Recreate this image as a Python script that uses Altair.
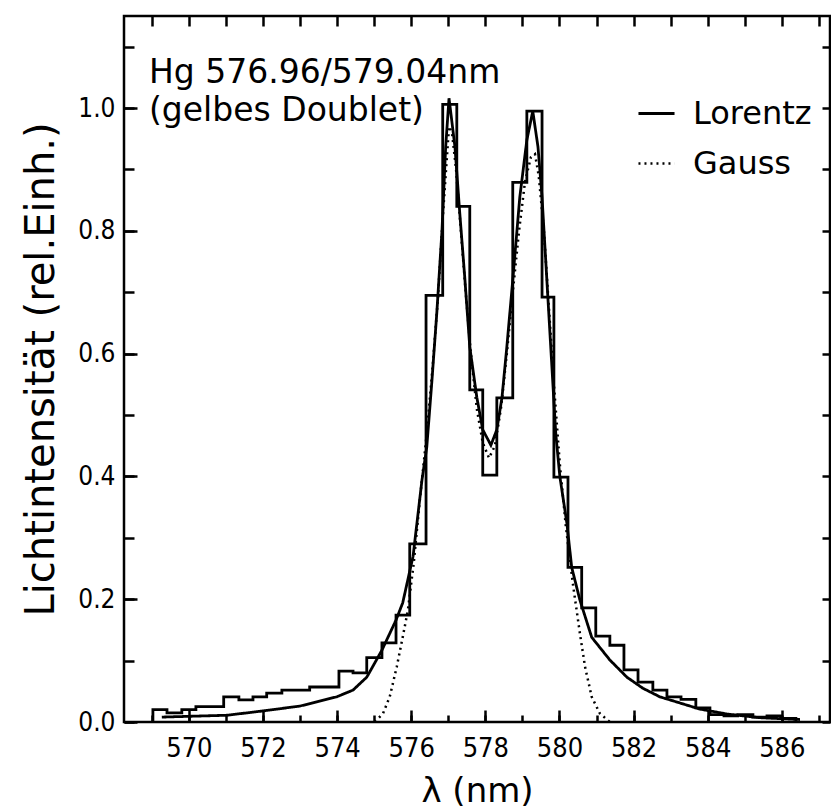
import altair as alt
import pandas as pd

# ---------------- data ----------------
bin_edges = [569.03, 569.41, 569.81, 570.19, 570.57, 570.94, 571.35, 571.73, 572.10, 572.51,
             572.89, 573.26, 573.64, 574.05, 574.43, 574.80, 575.21, 575.59, 575.96, 576.40,
             576.85, 577.23, 577.58, 577.93, 578.31, 578.74, 579.12, 579.53, 579.85, 580.23,
             580.60, 580.98, 581.36, 581.74, 582.12, 582.52, 582.90, 583.28, 583.68, 584.06,
             584.44, 584.81, 585.22, 585.60, 585.97, 586.38]
bin_heights = [0.020, 0.015, 0.020, 0.025, 0.025, 0.041, 0.036, 0.041, 0.047, 0.052,
               0.052, 0.057, 0.057, 0.083, 0.080, 0.105, 0.129, 0.174, 0.290, 0.695,
               1.006, 0.840, 0.541, 0.402, 0.528, 0.879, 0.995, 0.692, 0.399, 0.252,
               0.186, 0.140, 0.125, 0.085, 0.065, 0.052, 0.041, 0.037, 0.023, 0.012,
               0.010, 0.012, 0.008, 0.010, 0.006]

lorentz_x = [569.27, 571.03, 572.00, 573.00, 573.99, 574.43, 574.80, 575.21, 575.59, 575.77,
             576.05, 576.29, 576.42, 576.56, 576.69, 576.83, 576.93, 577.02, 577.18, 577.31,
             577.45, 577.58, 577.77, 577.93, 578.15, 578.31, 578.45, 578.58, 578.74, 578.93,
             579.12, 579.28, 579.42, 579.53, 579.66, 579.79, 579.90, 580.01, 580.20, 580.33,
             580.55, 580.87, 581.36, 581.82, 582.25, 582.71, 583.25, 583.79, 584.52, 585.41,
             586.49]
lorentz_y = [0.008, 0.011, 0.018, 0.026, 0.041, 0.052, 0.073, 0.117, 0.166, 0.194,
             0.270, 0.394, 0.448, 0.557, 0.666, 0.800, 0.937, 1.016, 0.937, 0.829,
             0.720, 0.611, 0.529, 0.476, 0.451, 0.476, 0.529, 0.611, 0.720, 0.855,
             0.948, 0.995, 0.937, 0.855, 0.720, 0.585, 0.470, 0.400, 0.324, 0.252,
             0.199, 0.138, 0.101, 0.073, 0.055, 0.041, 0.031, 0.021, 0.013, 0.007,
             0.004]

gauss_x = [575.02, 575.24, 575.42, 575.61, 575.77, 575.91, 576.07, 576.23, 576.42, 576.58,
           576.72, 576.85, 576.94, 577.02, 577.10, 577.21, 577.34, 577.47, 577.61, 577.77,
           577.93, 578.10, 578.26, 578.42, 578.58, 578.74, 578.91, 579.07, 579.23, 579.34,
           579.44, 579.58, 579.71, 579.85, 580.01, 580.17, 580.36, 580.55, 580.69, 580.87,
           581.09, 581.36]
gauss_y = [0.000, 0.014, 0.041, 0.090, 0.138, 0.182, 0.260, 0.360, 0.470, 0.580,
           0.690, 0.820, 0.900, 0.970, 0.960, 0.900, 0.800, 0.700, 0.600, 0.510,
           0.455, 0.430, 0.450, 0.510, 0.600, 0.700, 0.800, 0.880, 0.920, 0.925,
           0.890, 0.800, 0.680, 0.550, 0.420, 0.320, 0.226, 0.145, 0.090, 0.041,
           0.014, 0.000]

series_names = ["Lorentz", "Gauss"]
annotation_lines = ["Hg 576.96/579.04nm", "(gelbes Doublet)"]
x_title = "λ (nm)"
y_title = "Lichtintensität (rel.Einh.)"

x_major = [570, 572, 574, 576, 578, 580, 582, 584, 586]
x_minor = [569, 570, 571, 572, 573, 574, 575, 576, 577, 578, 579, 580, 581, 582, 583, 584, 585, 586, 587]
y_major = [0.0, 0.2, 0.4, 0.6, 0.8, 1.0]
y_minor = [0.0, 0.1, 0.2, 0.3, 0.4, 0.5, 0.6, 0.7, 0.8, 0.9, 1.0, 1.1]

# ---------------- tables ----------------
hx = [bin_edges[0]] + bin_edges[:-1] + [bin_edges[-1], bin_edges[-1]]
hy = [0.0] + bin_heights + [bin_heights[-1], 0.0]
hist_df = pd.DataFrame({"x": hx, "y": hy, "i": list(range(len(hx)))})

curves_df = pd.concat([
    pd.DataFrame({"x": lorentz_x, "y": lorentz_y, "series": series_names[0], "i": range(len(lorentz_x))}),
    pd.DataFrame({"x": gauss_x, "y": gauss_y, "series": series_names[1], "i": range(len(gauss_x))}),
], ignore_index=True)

W, H = 706, 706
FONT = "DejaVu Sans"
NUMFONT = "DejaVu Sans Condensed, DejaVu Sans"
xs = alt.Scale(domain=[568.25, 587.3], nice=False, zero=False)
ys = alt.Scale(domain=[0, 1.15], nice=False, zero=False)

common = dict(domain=False, grid=False, tickColor="black", tickWidth=2.5)

hist = alt.Chart(hist_df).mark_line(interpolate="step-after", color="black", strokeWidth=2.8).encode(
    x=alt.X("x:Q", scale=xs, axis=alt.Axis(
        orient="bottom", values=x_major, format=".0f", tickSize=12, offset=-12,
        labelPadding=13, labelFont=NUMFONT, labelFontSize=27, labelColor="black",
        title=x_title, titleFont=FONT, titleFontSize=34, titleFontWeight="normal",
        titleColor="black", titlePadding=13, **common)),
    y=alt.Y("y:Q", scale=ys, axis=alt.Axis(
        orient="left", values=y_major, format=".1f", tickSize=13, offset=-13,
        labelPadding=9, labelFont=NUMFONT, labelFontSize=26, labelColor="black",
        title=y_title, titleFont=FONT, titleFontSize=40, titleFontWeight="normal",
        titleColor="black", titlePadding=16, **common)),
    order="i:Q",
)

curves = alt.Chart(curves_df).mark_line(color="black").encode(
    x=alt.X("x:Q", scale=xs, axis=alt.Axis(
        orient="bottom", values=x_minor, tickSize=7, offset=-7, labels=False, title=None, **common)),
    y=alt.Y("y:Q", scale=ys, axis=alt.Axis(
        orient="left", values=y_minor, tickSize=10, offset=-10, labels=False, title=None, **common)),
    strokeDash=alt.StrokeDash("series:N", scale=alt.Scale(domain=series_names, range=[[1, 0], [2, 4]]),
                              legend=alt.Legend(title=None, orient="none", legendX=513, legendY=78,
                                                symbolType="stroke", symbolSize=1300,
                                                symbolStrokeColor="black", symbolStrokeWidth=2.8,
                                                labelFont=FONT, labelFontSize=32, labelColor="black",
                                                labelOffset=17, rowPadding=14, padding=0)),
    strokeWidth=alt.StrokeWidth("series:N", scale=alt.Scale(domain=series_names, range=[2.8, 2.5]), legend=None),
    detail="series:N",
    order="i:Q",
)

frame_axes = alt.Chart(hist_df).mark_line(opacity=0).encode(
    x=alt.X("x:Q", scale=xs, axis=alt.Axis(
        orient="top", values=x_minor, tickSize=10, offset=-10, labels=False, title=None, **common)),
    y=alt.Y("y:Q", scale=ys, axis=alt.Axis(
        orient="right", values=y_minor, tickSize=8, offset=-8, labels=False, title=None, **common)),
)

txt1 = alt.Chart(pd.DataFrame({"t": [annotation_lines[0]]})).mark_text(
    align="left", baseline="alphabetic", font=FONT, fontSize=33, color="black"
).encode(x=alt.value(25), y=alt.value(67), text="t:N")
txt2 = alt.Chart(pd.DataFrame({"t": [annotation_lines[1]]})).mark_text(
    align="left", baseline="alphabetic", font=FONT, fontSize=33, color="black"
).encode(x=alt.value(25), y=alt.value(105), text="t:N")

chart = alt.layer(hist, curves, frame_axes, txt1, txt2).resolve_axis(
    x="independent", y="independent"
).properties(
    width=W, height=H,
    padding={"left": 124, "top": 16, "right": 1, "bottom": 89},
    autosize="none",
    background="white",
).configure_view(stroke="black", strokeWidth=2.5)

chart.save("out.html", embed_options={"renderer": "svg", "actions": False})
